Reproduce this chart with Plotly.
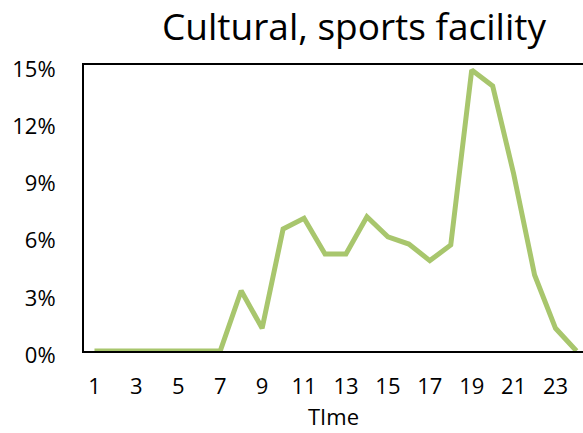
import plotly.graph_objects as go

# Hourly share of trips to cultural / sports facilities
hours = list(range(1, 25))
share = [0.0, 0.0, 0.0, 0.0, 0.0, 0.0, 0.0, 0.0316, 0.0119, 0.064,
         0.0696, 0.0509, 0.0509, 0.0704, 0.0599, 0.0561, 0.0474, 0.0556,
         0.1474, 0.139, 0.093, 0.0399, 0.0119, 0.0]
x_ticks = list(range(1, 24, 2))
y_ticks = [0, 0.03, 0.06, 0.09, 0.12, 0.15]

FONT = "Open Sans"

fig = go.Figure()
fig.add_trace(go.Scatter(
    x=hours, y=share, mode="lines",
    line=dict(color="#A8C66D", width=5),
    cliponaxis=False, hoverinfo="skip",
))

fig.update_layout(
    width=583, height=433,
    margin=dict(l=84, r=0, t=65, b=82),
    paper_bgcolor="white", plot_bgcolor="white",
    showlegend=False,
    font=dict(family=FONT, color="black", size=22),
)

fig.update_xaxes(
    range=[0.5, 24.31],
    tickmode="array", tickvals=x_ticks, ticktext=[str(v) for v in x_ticks],
    showgrid=False, zeroline=False,
    showline=True, linecolor="black", linewidth=2, mirror=True,
    ticks="", ticklabelstandoff=15,
    tickfont=dict(family=FONT, size=22),
    title=dict(text="TIme", font=dict(family=FONT, size=22), standoff=10),
    layer="below traces",
)
fig.update_yaxes(
    range=[0, 0.15],
    tickmode="array", tickvals=y_ticks, tickformat=".0%",
    showgrid=False, zeroline=False,
    showline=True, linecolor="black", linewidth=2,
    ticks="", ticklabelstandoff=22, ticklabelshift=4,
    tickfont=dict(family=FONT, size=22),
    layer="below traces",
)

fig.add_annotation(
    text="Cultural, sports facility",
    xref="paper", yref="paper", x=(354 - 84) / 499, y=1, yshift=40,
    xanchor="center", yanchor="middle", showarrow=False,
    font=dict(family=FONT, size=37, color="black"),
)

fig.write_html("out.html")
